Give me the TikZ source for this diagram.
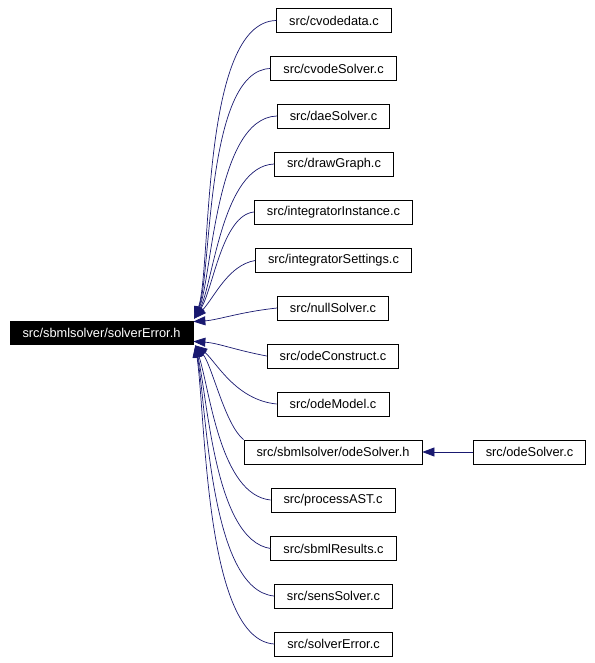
\documentclass[tikz,border=0pt]{standalone}
\usepackage{fontspec}
\setmainfont{Liberation Sans}
\usepackage{tikz}
\usetikzlibrary{arrows.meta,calc}
\definecolor{depEdge}{HTML}{191970}
\definecolor{depText}{HTML}{000000}
\tikzset{
  dep/.style={draw=black,line width=0.8pt,fill=white,text=depText,inner xsep=12.5pt,
              minimum height=24pt,font=\fontsize{12.8}{14}\selectfont},
  depmain/.style={dep,fill=black,text=white,minimum height=23pt},
  depflow/.style={-{Triangle[length=12pt,width=9pt]},draw=depEdge,line width=0.7pt},
}

\begin{document}
\begin{tikzpicture}[x=1pt,y=-1pt]
  \useasboundingbox (0,0) rectangle (594,663);
  \node[depmain] (main) at (101.5,332.5) {src/sbmlsolver/solverError.h};

  \node[dep] (cvodedata)  at (334,20.5)  {src/cvodedata.c};
  \node[dep] (cvodeSolver) at (333.5,68.5) {src/cvodeSolver.c};
  \node[dep] (daeSolver)  at (333.5,116) {src/daeSolver.c};
  \node[dep] (drawGraph)  at (334,164)   {src/drawGraph.c};
  \node[dep] (intInst)    at (333.5,212) {src/integratorInstance.c};
  \node[dep] (intSet)     at (333.5,260.5) {src/integratorSettings.c};
  \node[dep] (nullSolver) at (333,308)   {src/nullSolver.c};
  \node[dep] (odeConstruct) at (333,356) {src/odeConstruct.c};
  \node[dep] (odeModel)   at (333,404)   {src/odeModel.c};
  \node[dep] (odeSolverH) at (333,452)   {src/sbmlsolver/odeSolver.h};
  \node[dep] (processAST) at (333,500)   {src/processAST.c};
  \node[dep] (sbmlResults) at (333.5,548.5) {src/sbmlResults.c};
  \node[dep] (sensSolver) at (333.5,596) {src/sensSolver.c};
  \node[dep] (solverErrC) at (333.5,644) {src/solverError.c};
  \node[dep] (odeSolverC) at (529.5,452) {src/odeSolver.c};

  % upper bundle
  \draw[depflow] (cvodedata.west) .. controls (200,22) and (212,270) .. ($(main.north east)+(1,-2)$);
  \draw[depflow] (cvodeSolver.west) .. controls (205,70) and (212,275) .. ($(main.north east)+(1,-2)$);
  \draw[depflow] (daeSolver.west) .. controls (215,118) and (212,280) .. ($(main.north east)+(1,-2)$);
  \draw[depflow] (drawGraph.west) .. controls (222,166) and (213,285) .. ($(main.north east)+(1,-2)$);
  \draw[depflow] (intInst.west) .. controls (222,215) and (213,290) .. ($(main.north east)+(1,-2)$);
  \draw[depflow] (intSet.west) .. controls (228,265) and (214,298) .. ($(main.north east)+(1,-2)$);
  \draw[depflow] (nullSolver.west) .. controls (240,312) and (218,320) .. ($(main.north east)+(0,1)$);
  % lower bundle
  \draw[depflow] (odeConstruct.west) .. controls (235,350) and (218,343) .. ($(main.south east)+(0,-3)$);
  \draw[depflow] (odeModel.west) .. controls (235,400) and (215,360) .. ($(main.south east)+(2,1)$);
  \draw[depflow] (odeSolverH.north west) .. controls (225,425) and (212,365) .. ($(main.south east)+(2,1)$);
  \draw[depflow] (processAST.west) .. controls (220,495) and (210,390) .. ($(main.south east)+(2,1)$);
  \draw[depflow] (sbmlResults.west) .. controls (215,540) and (208,400) .. ($(main.south east)+(2,1)$);
  \draw[depflow] (sensSolver.west) .. controls (210,590) and (207,410) .. ($(main.south east)+(2,1)$);
  \draw[depflow] (solverErrC.west) .. controls (205,640) and (206,420) .. ($(main.south east)+(2,1)$);

  \draw[depflow] (odeSolverC) -- (odeSolverH);
\end{tikzpicture}
\end{document}
